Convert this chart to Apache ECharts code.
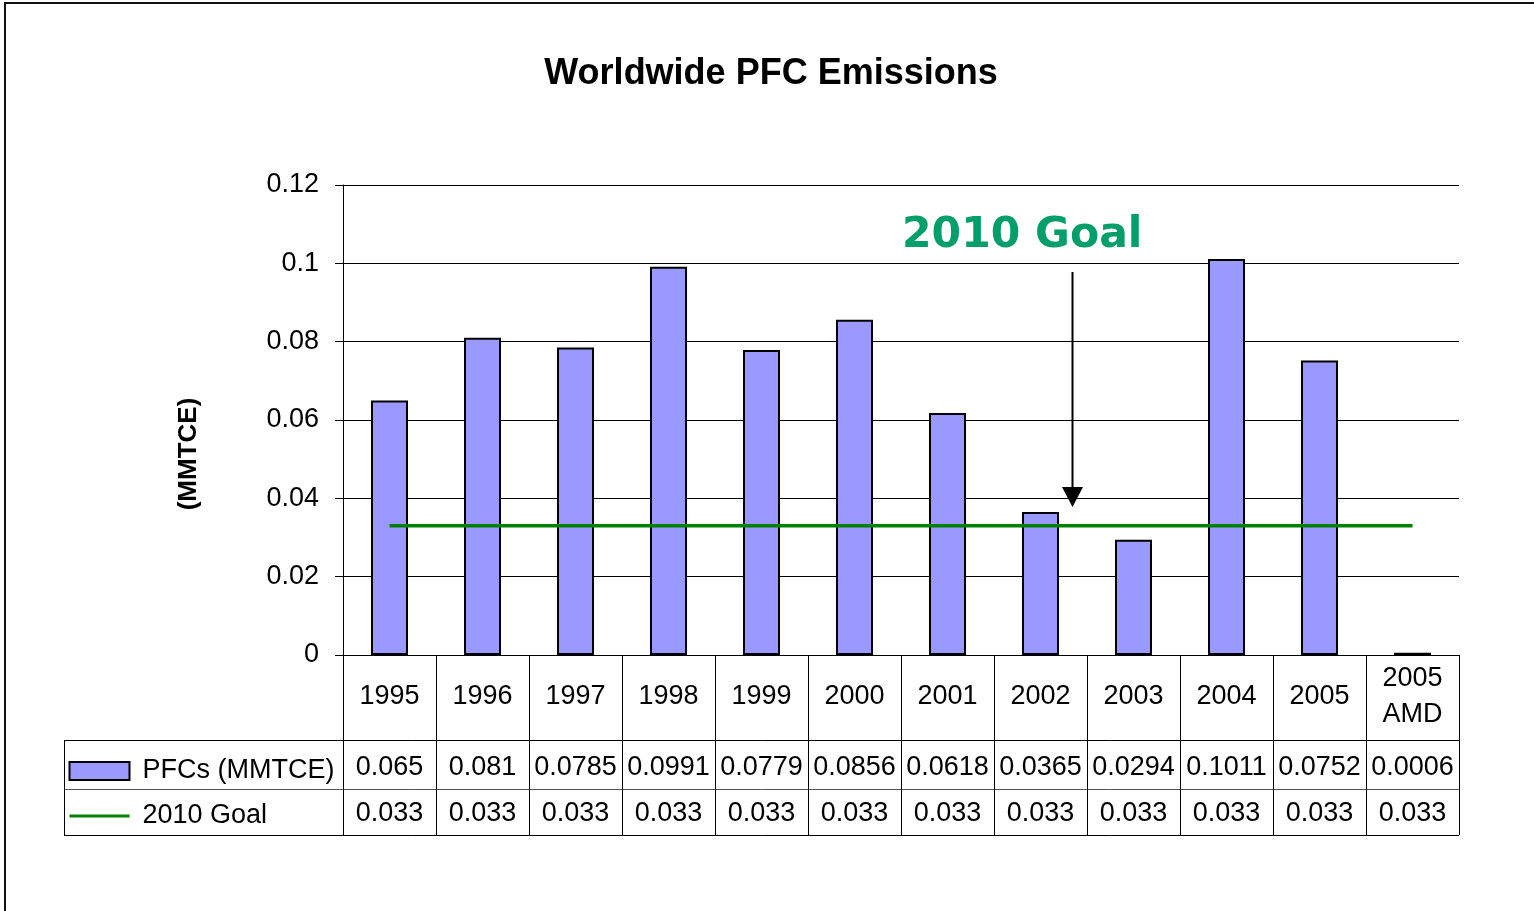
<!DOCTYPE html>
<html>
<head>
<meta charset="utf-8">
<title>Worldwide PFC Emissions</title>
<script src="https://cdn.jsdelivr.net/npm/echarts@6/dist/echarts.min.js"></script>
<style>
html, body { margin: 0; padding: 0; background: #fff; }
#chart { width: 1534px; height: 911px; }
</style>
</head>
<body>
<div id="chart"></div>
<script>
const years = ['1995', '1996', '1997', '1998', '1999', '2000', '2001', '2002', '2003', '2004', '2005', '2005\nAMD']
const pfcValues = [0.065, 0.081, 0.0785, 0.0991, 0.0779, 0.0856, 0.0618, 0.0365, 0.0294, 0.1011, 0.0752, 0.0006]
const goalValues = [0.033, 0.033, 0.033, 0.033, 0.033, 0.033, 0.033, 0.033, 0.033, 0.033, 0.033, 0.033]
const pfcLabels = ['0.065', '0.081', '0.0785', '0.0991', '0.0779', '0.0856', '0.0618', '0.0365', '0.0294', '0.1011', '0.0752', '0.0006']
const goalLabels = ['0.033', '0.033', '0.033', '0.033', '0.033', '0.033', '0.033', '0.033', '0.033', '0.033', '0.033', '0.033']

const FONT = '"Liberation Sans", Arial, sans-serif'
const myChart = echarts.init(document.getElementById('chart'))

const tableAxis = (labels, margin) => ({
    type: 'category',
    data: years,
    position: 'bottom',
    axisLine: { show: false },
    axisTick: { show: false },
    splitLine: { show: false },
    axisLabel: {
        interval: 0,
        margin: margin,
        verticalAlign: 'middle',
        fontFamily: FONT,
        fontSize: 27,
        color: '#000',
        formatter: (v, i) => labels[i]
    }
})

const option = {
    animation: false,
    backgroundColor: '#fff',
    textStyle: { fontFamily: FONT },
    grid: { left: 343, right: 75, top: 185, bottom: 256, outerBoundsMode: 'none' },
    legend: {
        orient: 'vertical',
        left: 63,
        top: 751,
        itemWidth: 60,
        itemHeight: 18,
        itemGap: 15,
        selectedMode: false,
        textStyle: { fontFamily: FONT, fontSize: 27, color: '#000', lineHeight: 30, padding: [0, 0, 0, 8] },
        lineStyle: { width: 3 },
        data: [
            { name: 'PFCs (MMTCE)', icon: 'rect', itemStyle: { color: '#9999ff', borderColor: '#000', borderWidth: 2 } },
            { name: '2010 Goal', itemStyle: { color: 'rgba(0,0,0,0)', borderWidth: 0 } }
        ]
    },
    xAxis: [
        {
            type: 'category',
            data: years,
            position: 'bottom',
            axisLine: { show: true, lineStyle: { color: '#000', width: 1 } },
            axisTick: { show: true, length: 180, alignWithLabel: false, interval: 0, lineStyle: { color: '#000' } },
            splitLine: { show: false },
            axisLabel: {
                interval: 0,
                margin: 42,
                verticalAlign: 'middle',
                fontFamily: FONT,
                fontSize: 27,
                lineHeight: 36,
                color: '#000'
            }
        },
        tableAxis(pfcLabels, 113),
        tableAxis(goalLabels, 159)
    ],
    yAxis: {
        type: 'value',
        min: 0,
        max: 0.12,
        interval: 0.02,
        axisLine: { show: true, lineStyle: { color: '#000' } },
        axisTick: { show: true, length: 8, lineStyle: { color: '#000' } },
        splitLine: { show: true, lineStyle: { color: '#000', width: 1 } },
        axisLabel: {
            margin: 24,
            fontFamily: FONT,
            fontSize: 27,
            color: '#000',
            formatter: v => String(+v.toFixed(2))
        }
    },
    series: [
        {
            name: 'PFCs (MMTCE)',
            type: 'bar',
            data: pfcValues,
            barWidth: 37,
            itemStyle: { color: '#9999ff', borderColor: '#000', borderWidth: 2 },
            z: 2
        },
        {
            name: '2010 Goal',
            type: 'line',
            data: goalValues,
            symbol: 'none',
            lineStyle: { color: '#008000', width: 3.5 },
            itemStyle: { color: '#008000' },
            z: 3
        }
    ],
    graphic: [
        // outer frame
        { type: 'rect', shape: { x: 5, y: 3, width: 1600, height: 1000 }, style: { fill: 'none', stroke: '#111', lineWidth: 2 }, silent: true },
        // title
        { type: 'text', x: 771, y: 74, style: { text: 'Worldwide PFC Emissions', font: 'bold 36px ' + FONT, fill: '#000', align: 'center', verticalAlign: 'middle' } },
        // y axis name
        { type: 'text', x: 189, y: 454, rotation: Math.PI / 2, style: { text: '(MMTCE)', font: 'bold 26px ' + FONT, fill: '#000', align: 'center', verticalAlign: 'middle' } },
        // goal annotation
        { type: 'text', x: 902, y: 236, style: { text: '2010 Goal', font: 'bold 42.5px "DejaVu Sans", sans-serif', fill: '#009e68', align: 'left', verticalAlign: 'middle' } },
        { type: 'line', shape: { x1: 1072.5, y1: 272, x2: 1072.5, y2: 492 }, style: { stroke: '#000', lineWidth: 2 } },
        { type: 'polygon', shape: { points: [[1062, 487], [1083, 487], [1072.5, 507]] }, style: { fill: '#000' } },
        // data table rules
        { type: 'line', shape: { x1: 64, y1: 740.5, x2: 1459, y2: 740.5 }, style: { stroke: '#000', lineWidth: 1 } },
        { type: 'line', shape: { x1: 64, y1: 789.5, x2: 1459, y2: 789.5 }, style: { stroke: '#555', lineWidth: 1 } },
        { type: 'line', shape: { x1: 64, y1: 835.5, x2: 1459, y2: 835.5 }, style: { stroke: '#000', lineWidth: 1 } },
        { type: 'line', shape: { x1: 64.5, y1: 740, x2: 64.5, y2: 836 }, style: { stroke: '#000', lineWidth: 1 } }
    ]
}
myChart.setOption(option)
</script>
</body>
</html>
